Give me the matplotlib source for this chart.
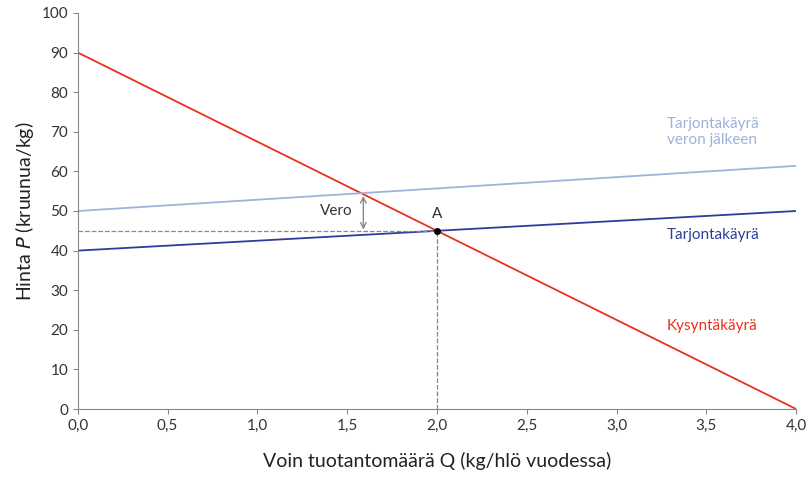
import matplotlib
matplotlib.use("Agg")
import matplotlib.pyplot as plt
import numpy as np

plt.rcParams["font.family"] = "Lato"

q_range = [0.0, 4.0]
demand_p = [90, 0]
supply_p = [40, 50]
tax_supply_p = [50, 61.4]
eq_q, eq_p = 2.0, 45
tax_q, tax_top, tax_bot = 1.59, 54.5, 44.6
xticks = [0, 0.5, 1, 1.5, 2, 2.5, 3, 3.5, 4]
yticks = list(range(0, 101, 10))

red = "#e8321e"; blue = "#2e3d98"; light = "#9fb2d9"; grey = "#888888"

fig = plt.figure(figsize=(8.1, 4.79), dpi=100)
ax = fig.add_axes([0.096, 0.146, 0.887, 0.827])
ax.plot(q_range, demand_p, color=red, lw=1.3)
ax.plot(q_range, supply_p, color=blue, lw=1.3)
ax.plot(q_range, tax_supply_p, color=light, lw=1.3)
ax.plot([0, eq_q], [eq_p, eq_p], ls="--", color=grey, lw=0.9)
ax.plot([eq_q, eq_q], [0, eq_p], ls="--", color=grey, lw=0.9)
ax.plot([eq_q], [eq_p], "o", color="black", ms=4, zorder=5)
ax.annotate("", xy=(tax_q, tax_top), xytext=(tax_q, tax_bot),
            arrowprops=dict(arrowstyle="<->", color=grey, lw=1.0))
ax.text(tax_q - 0.06, 50, "Vero", ha="right", va="center", fontsize=11, color="#333333")
ax.text(eq_q, 47.5, "A", ha="center", va="bottom", fontsize=11, color="#333333")
ax.text(3.28, 70, "Tarjontakäyrä\nveron jälkeen", color=light, fontsize=11, ha="left", va="center", linespacing=1.2)
ax.text(3.28, 44, "Tarjontakäyrä", color=blue, fontsize=11, ha="left", va="center")
ax.text(3.28, 21, "Kysyntäkäyrä", color=red, fontsize=11, ha="left", va="center")

ax.set_xlim(0, 4); ax.set_ylim(0, 100)
ax.set_xticks(xticks)
ax.set_xticklabels([f"{v:.1f}".replace(".", ",") for v in xticks])
ax.set_yticks(yticks)
ax.tick_params(labelsize=11, colors="#333333", color=grey)
for s in ["top", "right"]:
    ax.spines[s].set_visible(False)
for s in ["left", "bottom"]:
    ax.spines[s].set_color(grey)
ax.set_xlabel("Voin tuotantomäärä Q (kg/hlö vuodessa)", fontsize=14, color="#222222", labelpad=14)
ax.set_ylabel("Hinta $\\it{P}$ (kruunua/kg)", fontsize=14, color="#222222")
fig.savefig("out.png", dpi=100)
